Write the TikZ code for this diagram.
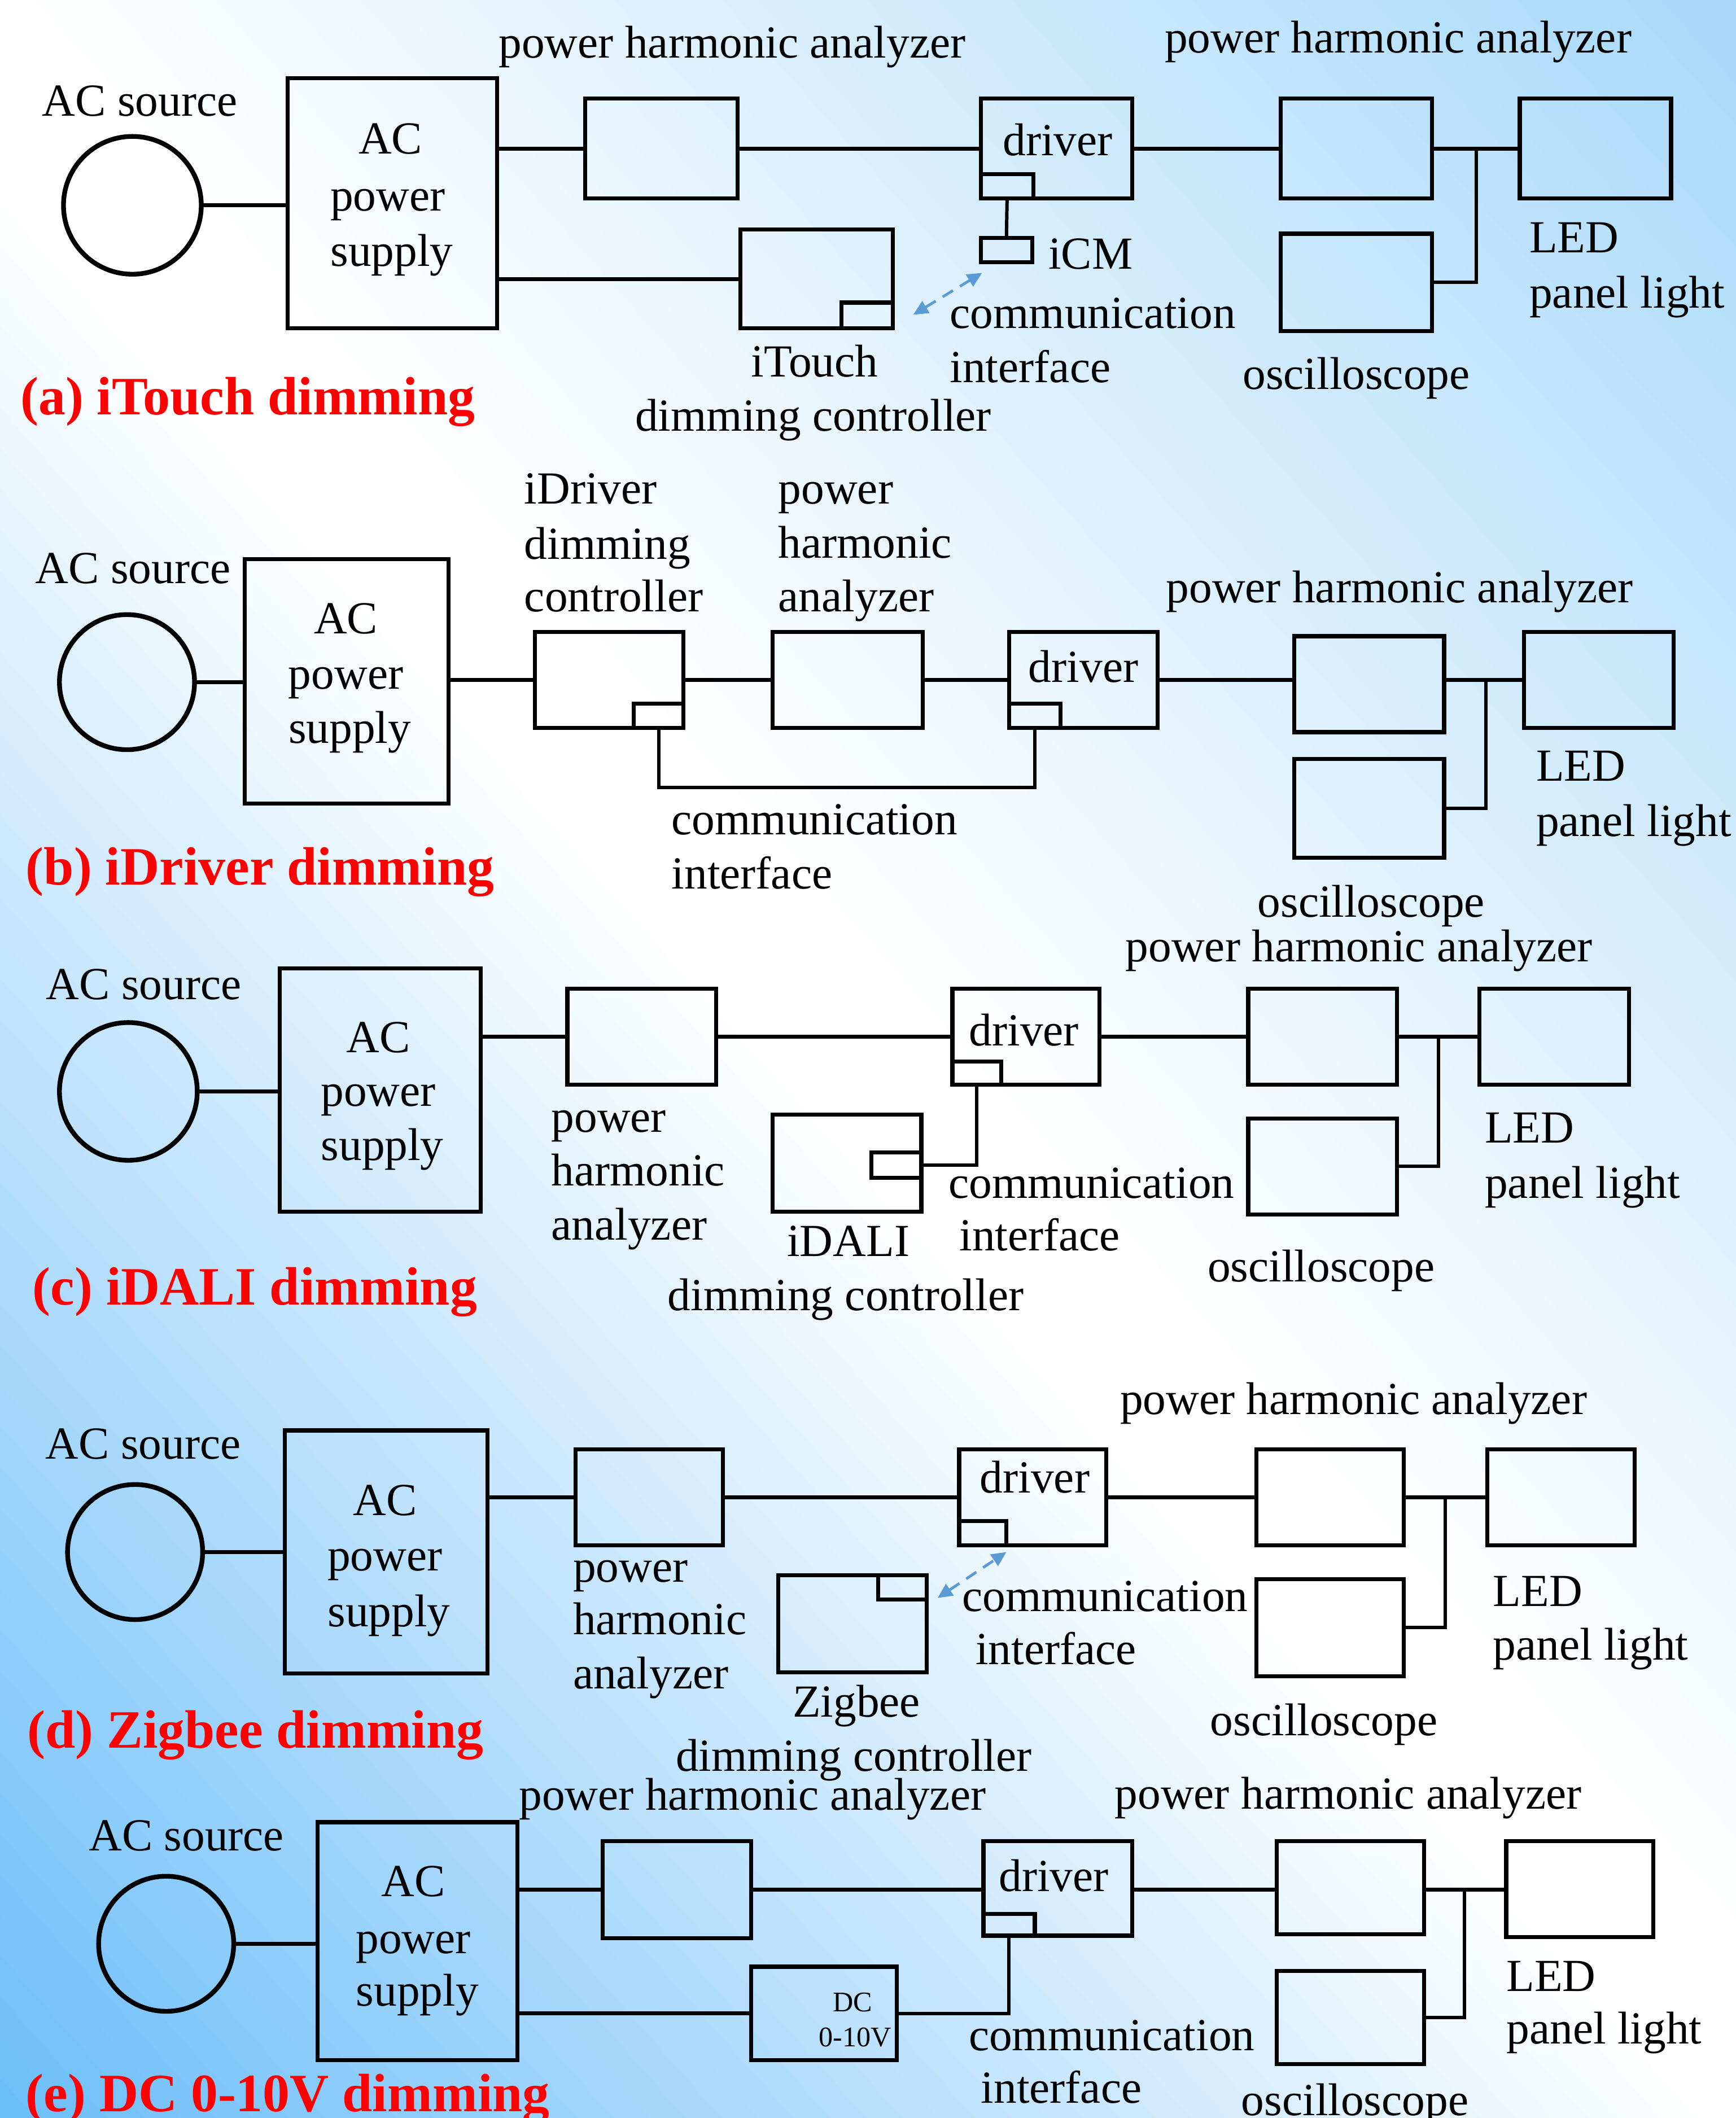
\documentclass[tikz,border=0pt]{standalone}
\usepackage{fontspec}
\setmainfont{Liberation Serif}
\usetikzlibrary{arrows.meta,calc}
\definecolor{bgA}{RGB}{108,190,250}
\definecolor{bgB}{RGB}{165,216,250}
\definecolor{dashblue}{RGB}{91,155,213}
\definecolor{lblred}{RGB}{255,0,0}
\tikzset{
 box/.style={draw, line width=3pt, inner sep=0pt, outer sep=0pt},
 src/.style={draw, circle, line width=3.5pt, inner sep=0pt, outer sep=0pt, minimum size=102pt},
 wire/.style={line width=3pt},
 jwire/.style={line width=2.5pt},
 lbl/.style={inner sep=0pt, font=\fontsize{34}{40}\selectfont},
 smalltxt/.style={inner sep=0pt, anchor=base, font=\fontsize{21}{25}\selectfont},
 title/.style={inner sep=0pt, anchor=base west, text=lblred, font=\fontsize{40}{48}\selectfont\bfseries},
 wireless/.style={dashblue, line width=2pt, dash pattern=on 9pt off 6pt, {Triangle[length=11pt,width=10pt]}-{Triangle[length=11pt,width=10pt]}},
}
\newcommand\bx[5]{\node[box, minimum width={#4-#2}, minimum height={#5-#3}] (#1) at ({(#2+#4)/2},{(#3+#5)/2}) {};}
\begin{document}
\begin{tikzpicture}[x=1pt,y=-1pt]
\useasboundingbox (0,0) rectangle (1285,1568);
% background gradient
\begin{scope}
\clip (0,0) rectangle (1285,1568);
\fill[white] (0,0) rectangle (1285,1568);
\foreach \t in {-1060,-1040,...,980}{
  \pgfmathtruncatemacro\pa{max(0,min(100,(-100-(\t))/9.4))}
  \pgfmathtruncatemacro\pb{max(0,min(100,(\t)/9.7))}
  \colorlet{bandt}{bgB!\pb!white}
  \colorlet{bandc}{bgA!\pa!bandt}
  \fill[bandc] ({(\t)*0.7486+(-20)*0.6634},{(\t)*(-0.6634)+(-20)*0.7486})
    -- ({(\t+21)*0.7486+(-20)*0.6634},{(\t+21)*(-0.6634)+(-20)*0.7486})
    -- ({(\t+21)*0.7486+2050*0.6634},{(\t+21)*(-0.6634)+2050*0.7486})
    -- ({(\t)*0.7486+2050*0.6634},{(\t)*(-0.6634)+2050*0.7486}) -- cycle;
}
\end{scope}

%%%%%%%%%%%%%%%% (a)
\node[src] (srcA) at (98,152) {};
\bx{psA}{213}{58}{368}{243}
\bx{phaA1}{433}{73}{546}{147}
\bx{drvA}{726}{73}{838}{147}
\bx{drvAs}{726}{129}{765}{147}
\bx{phaA2}{948}{73}{1060}{147}
\bx{ledA}{1125}{73}{1237}{147}
\bx{oscA}{948}{173}{1060}{245}
\bx{itA}{548}{170}{661}{243}
\bx{itAs}{623}{224}{661}{243}
\bx{icmA}{726}{176}{764}{194}
\draw[wire] (srcA.east) -- (srcA.east -| psA.west);
\draw[wire] (phaA1.west -| psA.east) -- (phaA1.west);
\draw[wire] (phaA1.east) -- (drvA.west);
\draw[wire] (drvA.east) -- (phaA2.west);
\draw[wire] (phaA2.east) -- (ledA.west);
\coordinate (jA) at (1093,110);
\draw[jwire] (jA) |- (oscA.east);
\draw[wire] (itA.west -| psA.east) -- (itA.west);
\draw[jwire] (drvAs.south) -- (icmA.north);
\coordinate (wA1) at (676,233); \coordinate (wA2) at (727,202);
\draw[wireless] (wA1) -- (wA2);
\node[lbl, anchor=base] (tA1) at (103.5,86) {AC source};
\node[lbl, anchor=base] (tA2) at (289,114) {AC};
\node[lbl, anchor=base] (tA3) at (287,156) {power};
\node[lbl, anchor=base] (tA4) at (290,197) {supply};
\node[lbl, anchor=base] (tA5) at (542,43) {power harmonic analyzer};
\node[lbl, anchor=base] (tA6) at (783,115) {driver};
\node[lbl, anchor=base] (tA7) at (1035,39) {power harmonic analyzer};
\node[lbl, anchor=base west] (tA8) at (1132,187) {LED};
\node[lbl, anchor=base west] (tA9) at (1132,228) {panel light};
\node[lbl, anchor=base] (tA10) at (1004,288) {oscilloscope};
\node[lbl, anchor=base] (tA11) at (603,279) {iTouch};
\node[lbl, anchor=base] (tA12) at (602,319) {dimming controller};
\node[lbl, anchor=base west] (tA13) at (776,199) {iCM};
\node[lbl, anchor=base west] (tA14) at (703,243) {communication};
\node[lbl, anchor=base west] (tA15) at (703,283) {interface};
\node[title] (tA16) at (15,307) {(a) iTouch dimming};

%%%%%%%%%%%%%%%% (b)
\node[src, minimum size=100pt] (srcB) at (94,505) {};
\bx{psB}{181}{414}{332}{595}
\bx{idrB}{396}{468}{506}{539}
\bx{idrBs}{469}{521}{506}{539}
\bx{phaB1}{572}{468}{683}{539}
\bx{drvB}{747}{468}{857}{539}
\bx{drvBs}{747}{521}{785}{539}
\bx{phaB2}{958}{471}{1069}{542}
\bx{ledB}{1128}{468}{1239}{539}
\bx{oscB}{958}{562}{1069}{635}
\draw[wire] (srcB.east) -- (srcB.east -| psB.west);
\draw[wire] (idrB.west -| psB.east) -- (idrB.west);
\draw[wire] (idrB.east) -- (phaB1.west);
\draw[wire] (phaB1.east) -- (drvB.west);
\draw[wire] (drvB.east) -- (drvB.east -| phaB2.west);
\draw[wire] (ledB.west -| phaB2.east) -- (ledB.west);
\coordinate (jB) at (1100,503.5);
\draw[jwire] (jB) |- (oscB.east);
\draw[jwire] (idrBs.south) -- ++(0,44) -| (drvBs.south);
\node[lbl, anchor=base] (tB1) at (98.5,432) {AC source};
\node[lbl, anchor=base] (tB2) at (256,469) {AC};
\node[lbl, anchor=base] (tB3) at (256,510) {power};
\node[lbl, anchor=base] (tB4) at (259,550) {supply};
\node[lbl, anchor=base west] (tB5) at (388,373) {iDriver};
\node[lbl, anchor=base west] (tB6) at (388,414) {dimming};
\node[lbl, anchor=base west] (tB7) at (388,453) {controller};
\node[lbl, anchor=base west] (tB8) at (576,373) {power};
\node[lbl, anchor=base west] (tB9) at (576,413) {harmonic};
\node[lbl, anchor=base west] (tB10) at (576,453) {analyzer};
\node[lbl, anchor=base] (tB11) at (802,505) {driver};
\node[lbl, anchor=base] (tB12) at (1036,446) {power harmonic analyzer};
\node[lbl, anchor=base west] (tB13) at (1137,578) {LED};
\node[lbl, anchor=base west] (tB14) at (1137,619) {panel light};
\node[lbl, anchor=base] (tB15) at (1015,679) {oscilloscope};
\node[lbl, anchor=base west] (tB16) at (497,618) {communication};
\node[lbl, anchor=base west] (tB17) at (497,658) {interface};
\node[title] (tB18) at (19,655) {(b) iDriver dimming};

%%%%%%%%%%%%%%%% (c)
\node[src] (srcC) at (95,808) {};
\bx{psC}{207}{717}{356}{897}
\bx{phaC1}{420}{732}{530}{803}
\bx{drvC}{705}{732}{814}{803}
\bx{drvCs}{705}{786}{741}{803}
\bx{phaC2}{924}{732}{1034}{803}
\bx{ledC}{1095}{732}{1206}{803}
\bx{oscC}{924}{828}{1034}{899}
\bx{idC}{572}{825}{682}{897}
\bx{idCs}{645}{853}{682}{872}
\draw[wire] (srcC.east) -- (srcC.east -| psC.west);
\draw[wire] (phaC1.west -| psC.east) -- (phaC1.west);
\draw[wire] (phaC1.east) -- (drvC.west);
\draw[wire] (drvC.east) -- (phaC2.west);
\draw[wire] (phaC2.east) -- (ledC.west);
\coordinate (jC) at (1065,767.5);
\draw[jwire] (jC) |- (oscC.east);
\draw[jwire] (idCs.east) -| (drvCs.south);
\node[lbl, anchor=base] (tC1) at (106.5,740) {AC source};
\node[lbl, anchor=base] (tC2) at (280,779) {AC};
\node[lbl, anchor=base] (tC3) at (280,819) {power};
\node[lbl, anchor=base] (tC4) at (283,859) {supply};
\node[lbl, anchor=base west] (tC5) at (408,838) {power};
\node[lbl, anchor=base west] (tC6) at (408,878) {harmonic};
\node[lbl, anchor=base west] (tC7) at (408,918) {analyzer};
\node[lbl, anchor=base] (tC8) at (758,774) {driver};
\node[lbl, anchor=base] (tC9) at (1006,712) {power harmonic analyzer};
\node[lbl, anchor=base west] (tC10) at (1099,846) {LED};
\node[lbl, anchor=base west] (tC11) at (1099,887) {panel light};
\node[lbl, anchor=base] (tC12) at (978,949) {oscilloscope};
\node[lbl, anchor=base] (tC13) at (628,930) {iDALI};
\node[lbl, anchor=base] (tC14) at (626,970) {dimming controller};
\node[lbl, anchor=base west] (tC15) at (702,887) {communication};
\node[lbl, anchor=base west] (tC16) at (710,926) {interface};
\node[title] (tC17) at (24,966) {(c) iDALI dimming};

%%%%%%%%%%%%%%%% (d)
\node[src, minimum size=100pt] (srcD) at (100,1149) {};
\bx{psD}{211}{1059}{361}{1239}
\bx{phaD1}{426}{1073}{535}{1144}
\bx{drvD}{710}{1073}{819}{1144}
\bx{drvDs}{710}{1126}{745}{1144}
\bx{phaD2}{930}{1073}{1039}{1144}
\bx{ledD}{1101}{1073}{1210}{1144}
\bx{oscD}{930}{1169}{1039}{1241}
\bx{zgD}{576}{1166}{686}{1238}
\bx{zgDs}{650}{1166}{686}{1184}
\draw[wire] (srcD.east) -- (srcD.east -| psD.west);
\draw[wire] (phaD1.west -| psD.east) -- (phaD1.west);
\draw[wire] (phaD1.east) -- (drvD.west);
\draw[wire] (drvD.east) -- (phaD2.west);
\draw[wire] (phaD2.east) -- (ledD.west);
\coordinate (jD) at (1070,1108.5);
\draw[jwire] (jD) |- (oscD.east);
\coordinate (wD1) at (694,1183); \coordinate (wD2) at (745,1149);
\draw[wireless] (wD1) -- (wD2);
\node[lbl, anchor=base] (tD1) at (106,1080) {AC source};
\node[lbl, anchor=base] (tD2) at (285,1122) {AC};
\node[lbl, anchor=base] (tD3) at (285,1163) {power};
\node[lbl, anchor=base] (tD4) at (288,1204) {supply};
\node[lbl, anchor=base west] (tD5) at (424,1171) {power};
\node[lbl, anchor=base west] (tD6) at (424,1210) {harmonic};
\node[lbl, anchor=base west] (tD7) at (424,1250) {analyzer};
\node[lbl, anchor=base] (tD8) at (766,1105) {driver};
\node[lbl, anchor=base] (tD9) at (1002,1047) {power harmonic analyzer};
\node[lbl, anchor=base west] (tD10) at (1105,1189) {LED};
\node[lbl, anchor=base west] (tD11) at (1105,1229) {panel light};
\node[lbl, anchor=base] (tD12) at (980,1285) {oscilloscope};
\node[lbl, anchor=base] (tD13) at (634,1271) {Zigbee};
\node[lbl, anchor=base] (tD14) at (632,1311) {dimming controller};
\node[lbl, anchor=base west] (tD15) at (712,1193) {communication};
\node[lbl, anchor=base west] (tD16) at (722,1232) {interface};
\node[title] (tD17) at (20,1294) {(d) Zigbee dimming};

%%%%%%%%%%%%%%%% (e)
\node[src, minimum size=100pt] (srcE) at (123,1439) {};
\bx{psE}{235}{1349}{383}{1525}
\bx{phaE1}{446}{1363}{556}{1435}
\bx{drvE}{728}{1363}{838}{1433}
\bx{drvEs}{728}{1417}{766}{1433}
\bx{phaE2}{945}{1363}{1054}{1432}
\bx{ledE}{1115}{1363}{1224}{1434}
\bx{oscE}{945}{1459}{1054}{1528}
\bx{dcE}{556}{1456}{664}{1525}
\draw[wire] (srcE.east) -- (srcE.east -| psE.west);
\draw[wire] (phaE1.west -| psE.east) -- (phaE1.west);
\draw[wire] (phaE1.east) -- (phaE1.east -| drvE.west);
\draw[wire] (phaE1.east -| drvE.east) -- (phaE1.east -| phaE2.west);
\draw[wire] (phaE1.east -| phaE2.east) -- (phaE1.east -| ledE.west);
\coordinate (jE) at (1084,1399);
\draw[jwire] (jE) |- (oscE.east);
\draw[wire] (dcE.west -| psE.east) -- (dcE.west);
\draw[jwire] (dcE.east) -| (drvEs.south);
\node[lbl, anchor=base] (tE1) at (138,1370) {AC source};
\node[lbl, anchor=base] (tE2) at (306,1404) {AC};
\node[lbl, anchor=base] (tE3) at (306,1446) {power};
\node[lbl, anchor=base] (tE4) at (309,1485) {supply};
\node[lbl, anchor=base] (tE5) at (557,1340) {power harmonic analyzer};
\node[lbl, anchor=base] (tE6) at (780,1400) {driver};
\node[lbl, anchor=base] (tE7) at (998,1339) {power harmonic analyzer};
\node[lbl, anchor=base west] (tE8) at (1115,1474) {LED};
\node[lbl, anchor=base west] (tE9) at (1115,1513) {panel light};
\node[lbl, anchor=base] (tE10) at (1003,1566) {oscilloscope};
\node[smalltxt] (tE11) at (631,1489) {DC};
\node[smalltxt] (tE12) at (633,1515) {0-10V};
\node[lbl, anchor=base west] (tE13) at (717,1518) {communication};
\node[lbl, anchor=base west] (tE14) at (726,1557) {interface};
\node[title] (tE15) at (19,1563) {(e) DC 0-10V dimming};
\end{tikzpicture}
\end{document}
